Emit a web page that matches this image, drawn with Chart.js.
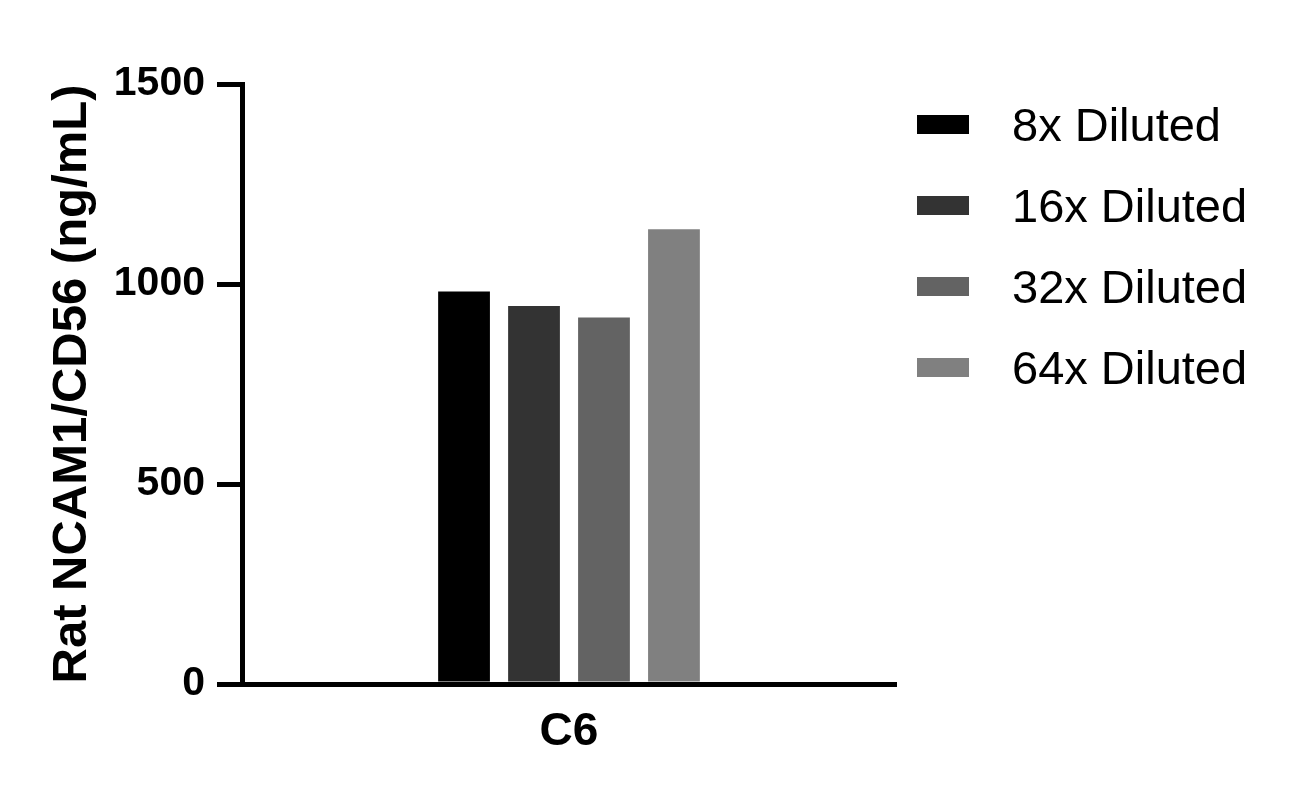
<!DOCTYPE html>
<html>
<head>
<meta charset="utf-8">
<script src="https://cdn.jsdelivr.net/npm/chart.js@4/dist/chart.umd.min.js"></script>
<style>
    html, body { margin: 0; padding: 0; background: #fff; }
    #wrap { width: 1293px; height: 804px; }
</style>
</head>
<body>
<div id="wrap"><canvas id="barchart" width="1293" height="804"></canvas></div>
<script>
const categories = ["C6"];
const seriesNames = ["8x Diluted", "16x Diluted", "32x Diluted", "64x Diluted"];
const seriesValues = [[981], [945], [916], [1137]];
const seriesColors = ["#000000", "#333333", "#636363", "#808080"];
const yTicks = [0, 500, 1000, 1500];
const yTitle = "Rat NCAM1/CD56 (ng/mL)";

const fontFamily = "'Liberation Sans', Arial, Helvetica, sans-serif";

// legend drawn by hand so the box/text spacing matches the original
const sideLegend = {
    id: 'sideLegend',
    afterDraw(chart) {
        const ctx = chart.ctx;
        const area = chart.chartArea;
        ctx.save();
        ctx.font = "47px " + fontFamily;
        ctx.textAlign = 'left';
        ctx.textBaseline = 'alphabetic';
        chart.data.datasets.forEach((ds, i) => {
            const cy = area.top + 41 + i * 81;
            ctx.fillStyle = ds.backgroundColor;
            ctx.fillRect(area.right + 21, cy - 10, 52, 19);
            ctx.fillStyle = '#000';
            ctx.fillText(ds.label, area.right + 116, cy + 16);
        });
        ctx.restore();
    }
};

createChart();

function createChart() {
    var ctx = document.getElementById('barchart').getContext('2d');
    var myChart = new Chart(ctx, {
        type: 'bar',
        data: {
            labels: categories,
            datasets: seriesNames.map((name, i) => ({
                label: name,
                data: seriesValues[i],
                backgroundColor: seriesColors[i],
                borderWidth: 0,
                categoryPercentage: 0.428,
                barPercentage: 0.74
            }))
        },
        plugins: [sideLegend],
        options: {
            responsive: false,
            animation: false,
            layout: {
                padding: { top: 84, right: 397, bottom: 0, left: 0 }
            },
            plugins: {
                legend: { display: false },
                tooltip: { enabled: false }
            },
            scales: {
                x: {
                    afterFit: (scale) => { scale.height = 120; },
                    grid: {
                        display: false
                    },
                    border: {
                        display: true,
                        color: '#000',
                        width: 5
                    },
                    ticks: {
                        color: '#000',
                        padding: 13,
                        font: { family: fontFamily, size: 46, weight: 'bold' }
                    }
                },
                y: {
                    min: 0,
                    max: 1500,
                    afterFit: (scale) => { scale.width = 242; },
                    afterBuildTicks: (scale) => {
                        scale.ticks = yTicks.map(v => ({ value: v }));
                    },
                    grid: {
                        drawOnChartArea: false,
                        drawTicks: true,
                        tickLength: 25,
                        lineWidth: 5,
                        color: '#000'
                    },
                    border: {
                        display: true,
                        color: '#000',
                        width: 5
                    },
                    ticks: {
                        color: '#000',
                        padding: 12,
                        callback: (value) => String(value),
                        font: { family: fontFamily, size: 41, weight: 'bold' }
                    },
                    title: {
                        display: true,
                        text: yTitle,
                        color: '#000',
                        padding: { top: 43, bottom: 0 },
                        font: { family: fontFamily, size: 49, weight: 'bold' }
                    }
                }
            }
        }
    });
}
</script>
</body>
</html>
